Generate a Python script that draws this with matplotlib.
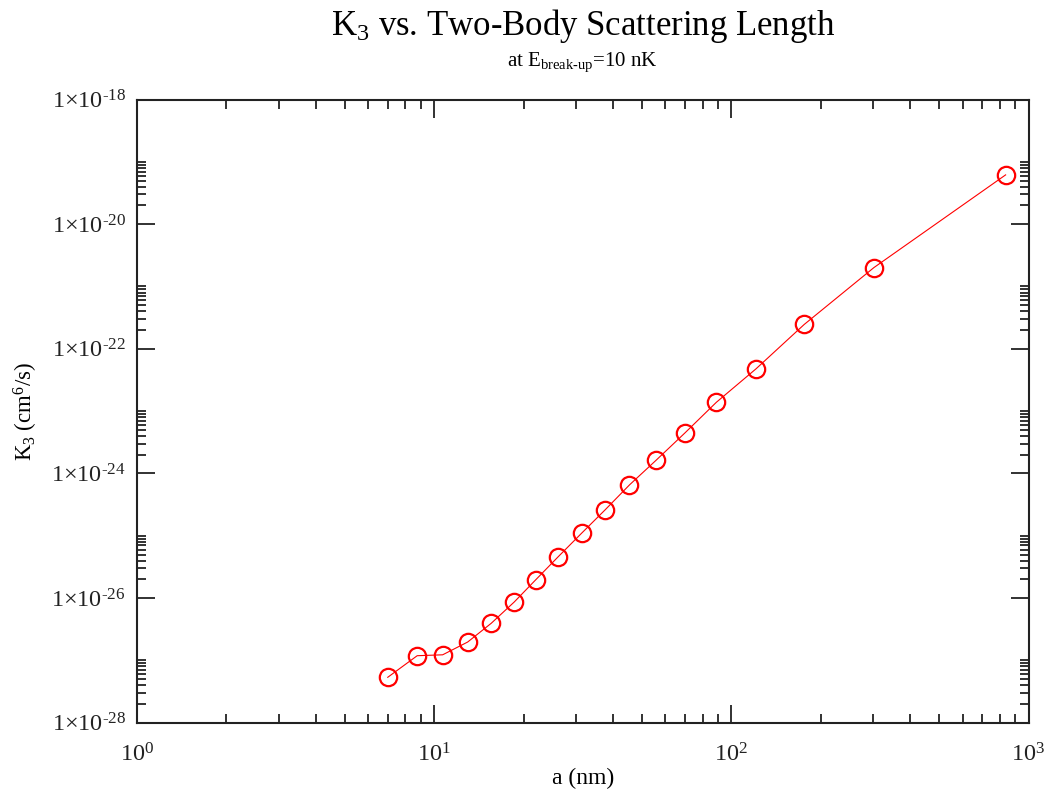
import numpy as np
import matplotlib
matplotlib.use("Agg")
import matplotlib.pyplot as plt
from matplotlib.ticker import FixedLocator, LogLocator, NullFormatter, FuncFormatter

# data
a_nm = [6.98, 8.77, 10.68, 12.96, 15.56, 18.60, 21.93, 26.16, 31.35, 37.56,
        45.41, 55.76, 69.8, 89.1, 121.0, 175.9, 301.8, 837.5]
k3 = [5.36e-28, 1.19e-27, 1.23e-27, 1.97e-27, 3.94e-27, 8.66e-27, 1.95e-26,
      4.62e-26, 1.10e-25, 2.59e-25, 6.54e-25, 1.62e-24, 4.47e-24, 1.39e-23,
      4.76e-23, 2.46e-22, 2.01e-21, 6.18e-20]

x_major = [1, 10, 100, 1000]
y_exponents = [-28, -26, -24, -22, -20, -18]

plt.rcParams['font.family'] = ['Liberation Serif', 'DejaVu Serif']
plt.rcParams['mathtext.fontset'] = 'custom'
plt.rcParams['mathtext.rm'] = 'Liberation Serif'
plt.rcParams['mathtext.it'] = 'Liberation Serif:italic'
plt.rcParams['mathtext.bf'] = 'Liberation Serif:bold'

fig = plt.figure(figsize=(10.48, 7.95), dpi=100)
ax = fig.add_axes([0.1307, 0.0909, 0.9814 - 0.1307, 0.8748 - 0.0909])

ax.plot(a_nm, k3, color='red', lw=0.8, marker='o', markersize=12.5,
        markerfacecolor='none', markeredgecolor='red', markeredgewidth=1.6)

ax.set_xscale('log')
ax.set_yscale('log')
ax.set_xlim(1, 1000)
ax.set_ylim(1e-28, 1e-18)

ax.xaxis.set_major_locator(FixedLocator(x_major))
ax.xaxis.set_minor_locator(LogLocator(base=10, subs=np.arange(2, 10)))
ax.xaxis.set_minor_formatter(NullFormatter())
ax.xaxis.set_major_formatter(FuncFormatter(lambda v, p: r'$10^{%d}$' % round(np.log10(v))))

ax.yaxis.set_major_locator(FixedLocator([10.0 ** e for e in y_exponents]))
y_minor = [k * 10.0 ** e for e in y_exponents[:-1] for k in range(2, 11)]
ax.yaxis.set_minor_locator(FixedLocator(y_minor))
ax.yaxis.set_minor_formatter(NullFormatter())
ax.yaxis.set_major_formatter(FuncFormatter(
    lambda v, p: r'$1{\times}10^{\text{-%d}}$' % abs(round(np.log10(v)))))

ax.tick_params(which='both', direction='in', top=True, right=True, width=1.3, colors='#222222')
ax.tick_params(which='major', length=13, labelsize=17.5)
ax.tick_params(axis='y', which='major', pad=8)
ax.tick_params(axis='x', which='major', pad=15)
ax.tick_params(which='minor', length=6.5)
for s in ax.spines.values():
    s.set_linewidth(1.5)
    s.set_color('#222222')

ax.set_xlabel('a (nm)', fontsize=17, labelpad=1)
ax.set_ylabel(r'K$_3$ (cm$^6$/s)', fontsize=16.5, labelpad=8)

fig.text(0.556, 0.967, r'K$_3$ vs. Two-Body Scattering Length', ha='center', va='center', fontsize=25)
fig.text(0.556, 0.922, r'at E$_{\text{break-up}}$=10 nK', ha='center', va='center', fontsize=15)

fig.savefig('out.png', dpi=100)
